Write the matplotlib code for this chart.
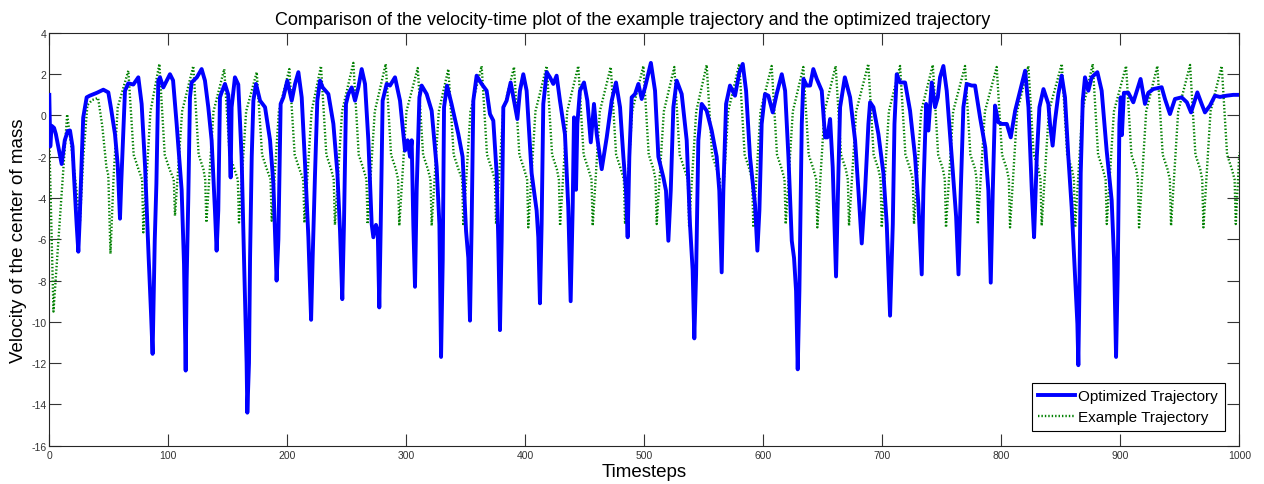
import matplotlib
matplotlib.use("Agg")
import matplotlib.pyplot as plt

plt.rcParams['font.family'] = ['Liberation Sans', 'DejaVu Sans']
plt.rcParams['axes.unicode_minus'] = False

# ---- Optimized trajectory (blue), keypoints ----
opt_t = [0, 0.8, 2, 4, 5.5, 7.5, 10.4, 13, 15.5, 17.4, 19.5, 21, 23, 24.4, 25.5, 27, 28.5,
         31.4, 34, 40, 45.4, 49.6, 52, 55.2, 57.5, 59.4, 60.5, 63.6, 66.4, 70.6, 74.8, 77.6,
         80.5, 83.5, 85.5, 86.8, 88.6, 90, 91.6, 93, 95.8, 101.4, 104, 107, 111.2, 113.2,
         114.6, 115.4, 116.8, 118.2, 119.6, 124, 128, 130.8, 133.6, 136.4, 139.2, 140.6, 142,
         143.4, 144.8, 147.6, 150.4, 152.4, 153.2, 156, 158.8, 161.6, 163.6, 165.8, 166.4,
         167.8, 168.7, 170.1, 171.5, 173.7, 177.1, 181.3, 185.5, 188.3, 191, 192.5, 194.4,
         196.7, 200, 203.7, 206.5, 209.3, 212.1, 214.9, 217.7, 220, 221.3, 223.3, 225.2,
         227.5, 229.7, 234.5, 238.7, 242.1, 244.3, 246.2, 247.6, 249.3, 251.3, 254.1, 256.9,
         259.7, 262.5, 265.3, 268.1, 270.9, 272.3, 274.5, 276, 277.3, 278.5, 280.1, 283.5,
         286.3, 290.5, 294.7, 298.9, 301.1, 303.1, 304.5, 305.9, 307.3, 308.7, 311, 312.9,
         317.1, 321.3, 325.5, 327.8, 329.2, 330.6, 331.7, 334.2, 338, 343.7, 347.3, 350.2,
         352.1, 353.5, 354.9, 356.3, 359.1, 363.3, 367.5, 370.3, 373.1, 375.9, 377.3, 378.7,
         380.1, 381.5, 384.3, 387.7, 390.5, 393.3, 395.5, 398.3, 401.1, 405.3, 409.5, 410.9,
         412.3, 413.7, 415.1, 418, 420.7, 423.5, 426.3, 429.1, 433.3, 436.1, 438.1, 439.8,
         440.9, 442.6, 443.7, 445.9, 449.3, 452.1, 455, 457.7, 460, 464.2, 468.4, 472.6,
         476.2, 479.6, 482.4, 484.6, 486, 487.4, 489.4, 492.2, 495, 497.8, 500.6, 505.5, 509,
         511.8, 516, 518.2, 520.2, 522.2, 524.4, 527.2, 531.4, 535.6, 538.4, 540.6, 542,
         543.5, 545.4, 548.2, 552.4, 556.6, 560.8, 563, 565, 566.4, 568.7, 572, 576.2, 579.9,
         582.7, 585.5, 588.8, 593, 595, 596.7, 598.6, 601.4, 604.2, 607.9, 611.2, 615.5,
         618.3, 621.1, 623.9, 625.8, 627.5, 628.9, 630.3, 632.3, 633.7, 636.5, 639.3, 642,
         644.9, 649.1, 651.9, 653.8, 656.1, 658.3, 661.1, 663.1, 664.5, 668.5, 672.9, 677.1,
         679.9, 682.7, 685.5, 688.3, 689.7, 692.5, 696.7, 700.9, 703.7, 706.5, 708.8, 710.2,
         712.1, 714.9, 719.1, 723.3, 727.5, 730.3, 733.1, 734.5, 736.8, 738.7, 741.5, 744.3,
         746.6, 748.5, 751.3, 754.1, 758.3, 762, 764, 765.9, 768.1, 770.9, 775.1, 777.9,
         782.1, 786.5, 789.1, 791.1, 792.8, 794.7, 797.5, 800.4, 804.6, 807.9, 811.6, 815.8,
         820, 822.8, 825.6, 827.5, 829.8, 832, 835.4, 839.5, 840.9, 843.1, 845.1, 847.9,
         850.7, 853.5, 856.3, 859.1, 861.9, 863.9, 864.7, 865.6, 866.7, 868.4, 870.3, 873.1,
         875.9, 880.7, 884.3, 888.5, 892.7, 894.7, 896.4, 897.8, 899.2, 900.3, 901.3, 903,
         906.7, 910.9, 917, 920.7, 923.5, 927.7, 934.7, 937.5, 941.7, 945.9, 951.5, 955.9,
         959.4, 964.7, 968.3, 971.1, 975.3, 979.5, 983.7, 989.3, 994.9, 1000]
opt_v = [1.0, -1.5, -0.5, -0.6, -0.9, -1.5, -2.35, -1.2, -0.75, -0.73, -1.5, -3.2, -5.3, -6.6,
         -5.1, -2.5, -0.1, 0.88, 0.96, 1.1, 1.25, 1.12, 0.3, -0.9, -2.4, -5.0, -3.2, 1.2,
         1.56, 1.5, 1.85, 0.56, -2.5, -6.9, -9.6, -11.55, -6.07, -3.3, 1.69, 1.85, 1.36, 2.0,
         1.7, -0.4, -3.6, -7.2, -12.36, -8.0, -4.0, 0.88, 1.6, 1.85, 2.25, 1.69, 0.4, -1.2,
         -4.6, -6.55, -4.6, 0.88, 1.12, 1.53, 1.0, -3.0, 0.4, 1.85, 1.5, -2.0, -6.9, -12.0,
         -14.4, -12.0, -6.9, -2.0, 0.72, 1.53, 0.72, 0.4, -1.2, -3.3, -8.0, -6.0, 0.56, 0.88,
         1.69, 0.72, 1.53, 2.1, 0.88, -2.35, -5.9, -9.9, -6.9, -2.8, 0.72, 1.69, 1.36, 1.04,
         -0.4, -2.8, -5.6, -8.9, -5.3, 0.56, 1.04, 1.36, 0.72, 1.36, 2.25, 1.53, -1.2, -5.26,
         -5.9, -5.3, -5.6, -9.3, -5.3, 0.72, 1.53, 1.45, 1.85, 0.72, -1.7, -1.2, -2.0, -1.2,
         -5.3, -8.3, -3.6, 0.88, 1.45, 1.04, 0.23, -2.5, -5.26, -11.7, -7.0, 0.4, 1.45, 0.56,
         -0.9, -2.0, -5.6, -6.9, -9.94, -5.26, 0.72, 1.93, 1.53, 1.2, 0.07, -0.25, -2.8,
         -6.07, -10.4, -6.07, 0.4, 0.72, 1.6, 0.72, -0.17, 1.2, 2.0, 1.2, -2.8, -4.6, -5.9,
         -9.1, -5.26, 0.56, 2.1, 1.85, 1.53, 1.93, 0.72, -0.9, -4.45, -9.0, -4.45, -0.09,
         -3.6, -0.41, 1.2, 1.6, 0.72, -1.3, 0.56, -0.9, -2.6, -1.06, 0.72, 1.6, 0.4, -2.0,
         -3.64, -5.9, -2.0, 0.88, 1.04, 1.53, 0.8, 1.36, 2.55, 1.2, -2.0, -3.0, -3.64, -6.07,
         -3.64, 0.4, 1.69, 1.04, -1.2, -5.3, -7.5, -10.8, -7.7, -1.2, 0.56, 0.23, -0.73, -2.0,
         -3.64, -7.6, -3.64, 0.56, 1.45, 0.96, 2.1, 2.5, 1.2, -2.0, -4.3, -6.55, -4.6, -0.41,
         1.04, 0.96, 0.15, 1.04, 2.0, 1.2, -2.0, -6.07, -6.9, -8.5, -12.3, -8.5, -0.41, 1.77,
         1.45, 1.45, 2.25, 1.77, 1.2, -1.06, -1.06, -0.17, -2.5, -7.8, -2.8, 0.4, 1.85, 0.88,
         -1.2, -3.64, -6.2, -3.64, -0.41, 0.64, 0.4, -0.9, -2.8, -5.26, -9.7, -5.26, -0.41,
         2.0, 1.6, 1.6, 0.23, -2.0, -4.3, -7.7, -3.64, 0.56, -0.73, 1.6, 0.4, 0.88, 1.85,
         2.4, 1.2, -2.0, -4.9, -7.7, -3.64, 0.4, 1.53, 1.45, 1.45, -0.09, -1.55, -3.64, -8.1,
         -3.64, 0.48, -0.33, -0.41, -0.41, -1.06, 0.23, 1.2, 2.17, 0.4, -3.64, -5.9, -2.0,
         0.4, 1.28, 0.56, -0.41, -1.46, -0.25, 1.04, 1.93, 0.88, -2.0, -4.45, -7.7, -10.1,
         -12.1, -8.5, -2.8, 0.72, 1.85, 1.2, 1.85, 2.1, 1.2, -1.7, -4.1, -6.9, -11.7, -7.7,
         -0.41, 0.88, -0.95, 1.1, 1.1, 0.64, 1.77, 0.56, 1.1, 1.28, 1.37, 0.8, 0.07, 0.8,
         0.88, 0.64, 0.15, 1.12, 0.56, 0.15, 0.48, 0.96, 0.9, 0.96, 1.0, 1.0]

# ---- Example trajectory (green dotted), keypoints ----
ex_t = [0, 3.5, 15, 18.5, 22, 25.8, 28.6, 32, 36, 41, 44.5, 48, 49.6, 51.4, 54, 57.5,
        66.4, 70.9, 74.9, 78, 79, 85,
        92.5, 97, 101, 104.6, 105.6, 111.6,
        121, 125.5, 129.5, 131, 132, 138,
        147, 151.5, 155.5, 158.4, 159.4, 165.4,
        174.3, 178.8, 182.8, 185.9, 186.9, 192.9,
        201.7, 206.2, 210.2, 213.4, 214.4, 220.4,
        228.3, 232.8, 236.8, 239, 240, 246,
        255.5, 260, 264, 266.5, 267.5, 273.5,
        282.7, 287.2, 291.2, 293.1, 294.1, 300.1,
        309.6, 314.1, 318.1, 320.3, 321.3, 327.3,
        335.3, 339.8, 343.8, 346.9, 347.9, 353.9,
        363.3, 367.8, 371.8, 374.4, 375.4, 381.4,
        390.5, 395, 399, 401.5, 402.5, 408.5,
        418, 422.5, 426.5, 428.2, 429.2, 435.2,
        444.5, 449, 453, 455.6, 456.6, 462.6,
        471.8, 476.3, 480.3, 482.8, 483.8, 489.8,
        499.2, 503.7, 507.7, 509.4, 510.4, 516.4,
        525.2, 529.7, 533.7, 536.6, 537.6, 543.6,
        552.4, 556.9, 560.9, 563.5, 564.5, 570.5,
        579.8, 584.3, 588.3, 590.6, 591.6, 597.6,
        607, 611.5, 615.5, 617.8, 618.8, 624.8,
        633.6, 638.1, 642.1, 644.4, 645.4, 651.4,
        660.8, 665.3, 669.3, 671, 672, 678,
        688.2, 692.7, 696.7, 698.5, 699.5, 705.5,
        714.9, 719.4, 723.4, 725.6, 726.6, 732.6,
        742.4, 746.9, 750.9, 752.5, 753.5, 759.5,
        769.5, 774, 778, 779.2, 780.2, 786.2,
        796.1, 800.6, 804.6, 806.3, 807.3, 813.3,
        822.7, 827.2, 831.2, 832.9, 833.9, 839.9,
        850.8, 855.3, 859.3, 861, 862, 868,
        876.8, 881.3, 885.3, 887.6, 888.6, 894.6,
        904.8, 909.3, 913.3, 914.7, 915.7, 921.7,
        931.1, 935.6, 939.6, 941.6, 942.6, 948.6,
        958.6, 963.1, 967.1, 968.8, 969.8, 975.8,
        985.2, 989.7, 993.7, 996, 997, 1000]
ex_v = [-1.2, -9.5, 0.05, -1.5, -3.2, -5.1, -2.0, 0.5, 0.75, 0.85, -0.5, -2.5, -2.9, -6.7, -3.0, 0.4,
        2.17, -1.9, -2.6, -3.1, -5.66, 0.2,
        2.5, -1.9, -2.6, -3.1, -4.86, 0.2,
        2.4, -1.9, -2.6, -3.1, -5.18, 0.2,
        2.25, -1.9, -2.6, -3.1, -5.18, 0.2,
        2.1, -1.9, -2.6, -3.1, -5.1, 0.2,
        2.25, -1.9, -2.6, -3.1, -5.2, 0.2,
        2.4, -1.9, -2.6, -3.1, -5.3, 0.2,
        2.55, -1.9, -2.6, -3.1, -5.26, 0.2,
        2.5, -1.9, -2.6, -3.1, -5.34, 0.2,
        2.3, -1.9, -2.6, -3.1, -5.34, 0.2,
        2.25, -1.9, -2.6, -3.1, -5.34, 0.2,
        2.4, -1.9, -2.6, -3.1, -5.26, 0.2,
        2.35, -1.9, -2.6, -3.1, -5.42, 0.2,
        2.4, -1.9, -2.6, -3.1, -5.34, 0.2,
        2.4, -1.9, -2.6, -3.1, -5.34, 0.2,
        2.35, -1.9, -2.6, -3.1, -5.26, 0.2,
        2.4, -1.9, -2.6, -3.1, -5.26, 0.2,
        2.35, -1.9, -2.6, -3.1, -5.34, 0.2,
        2.45, -1.9, -2.6, -3.1, -5.34, 0.2,
        2.5, -1.9, -2.6, -3.1, -5.42, 0.2,
        2.4, -1.9, -2.6, -3.1, -5.26, 0.2,
        2.35, -1.9, -2.6, -3.1, -5.42, 0.2,
        2.4, -1.9, -2.6, -3.1, -5.34, 0.2,
        2.5, -1.9, -2.6, -3.1, -5.42, 0.2,
        2.4, -1.9, -2.6, -3.1, -5.26, 0.2,
        2.45, -1.9, -2.6, -3.1, -5.42, 0.2,
        2.4, -1.9, -2.6, -3.1, -5.26, 0.2,
        2.35, -1.9, -2.6, -3.1, -5.42, 0.2,
        2.4, -1.9, -2.6, -3.1, -5.34, 0.2,
        2.5, -1.9, -2.6, -3.1, -5.42, 0.2,
        2.5, -1.9, -2.6, -3.1, -5.26, 0.2,
        2.4, -1.9, -2.6, -3.1, -5.42, 0.2,
        2.4, -1.9, -2.6, -3.1, -5.34, 0.2,
        2.45, -1.9, -2.6, -3.1, -5.42, 0.2,
        2.4, -1.9, -2.6, -3.1, -5.26, -1.8]

x_ticks = list(range(0, 1001, 100))
y_ticks = list(range(-16, 5, 2))

title = "Comparison of the velocity-time plot of the example trajectory and the optimized trajectory"
xlabel = "Timesteps"
ylabel = "Velocity of the center of mass"
labels = ["Optimized Trajectory", "Example Trajectory"]

fig = plt.figure(figsize=(12.64, 4.85), dpi=100)
ax = fig.add_axes([0.039, 0.079, 0.9415, 0.851])

ax.plot(opt_t, opt_v, color=(0, 0, 1), linewidth=2.8, solid_joinstyle='round',
        label=labels[0], zorder=3)
ax.plot(ex_t, ex_v, color=(0, 0.5, 0), linewidth=1.7, linestyle=(0, (0.6, 0.85)),
        dash_capstyle='butt', label=labels[1], zorder=2)

ax.set_xlim(0, 1000)
ax.set_ylim(-16, 4)
ax.set_xticks(x_ticks)
ax.set_yticks(y_ticks)
ax.tick_params(direction='in', top=True, right=True, length=8.5, width=0.8,
               labelsize=7.5, colors='#333333', pad=2)
ax.tick_params(axis='x', pad=3)
for s in ax.spines.values():
    s.set_color('#262626')
    s.set_linewidth(0.8)

fig.text(0.5004, 0.958, title, fontsize=13, ha='center', va='center')
ax.set_xlabel(xlabel, fontsize=13.5, labelpad=2)
ax.set_ylabel(ylabel, fontsize=13.5, labelpad=3)

leg = ax.legend(loc='lower right', fontsize=11, frameon=True, fancybox=False,
                edgecolor='black', framealpha=1, handlelength=2.4, borderpad=0.45,
                labelspacing=0.45, handletextpad=0.2, borderaxespad=0.95)
leg.get_frame().set_linewidth(0.8)

fig.savefig("out.png", dpi=100)
